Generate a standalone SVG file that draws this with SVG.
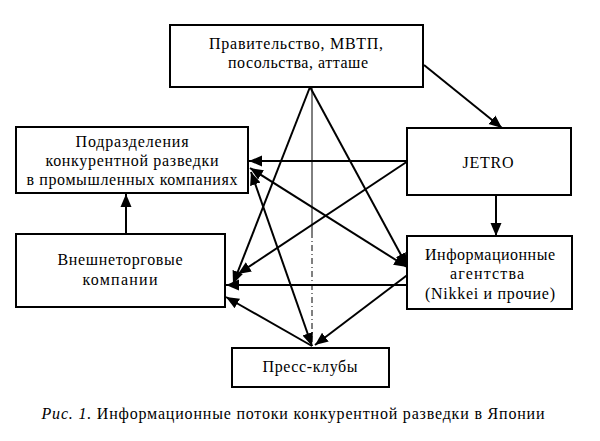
<svg xmlns="http://www.w3.org/2000/svg" width="600" height="441" viewBox="0 0 600 441">
<style>
.box{fill:#fff;stroke:#000;stroke-width:2}
.t{font-family:"Liberation Serif","Times New Roman",serif;font-size:16px;fill:#000;text-anchor:middle}
.c{stroke:#000;stroke-width:2;fill:none}
.thin{stroke:#000;stroke-width:1;fill:none}
</style>
<defs>
<marker id="a" markerUnits="userSpaceOnUse" markerWidth="14" markerHeight="12" refX="13" refY="6" orient="auto-start-reverse">
<path d="M0,0.5 L13,6 L0,11.5 Z" fill="#000"/>
</marker>
</defs>
<rect width="600" height="441" fill="#fff"/>
<g id="connectors">
<line class="c" x1="424" y1="65" x2="502" y2="128" marker-end="url(#a)"/>
<line class="c" x1="496" y1="195" x2="496" y2="236" marker-end="url(#a)"/>
<line class="c" x1="126" y1="234" x2="126" y2="194" marker-end="url(#a)"/>
<line class="c" x1="310" y1="87" x2="233" y2="284" marker-end="url(#a)"/>
<line class="c" x1="310" y1="87" x2="407" y2="266" marker-end="url(#a)"/>
<line class="thin" x1="312" y1="87" x2="312" y2="232"/>
<line class="thin" x1="312" y1="232" x2="312" y2="347" stroke-dasharray="6,3,1,3"/>
<line class="c" x1="407" y1="161" x2="249" y2="161" stroke-width="2.5" marker-end="url(#a)"/>
<line class="c" x1="408" y1="161" x2="238" y2="274" marker-end="url(#a)"/>
<line class="c" x1="250" y1="168" x2="407" y2="267" marker-start="url(#a)" marker-end="url(#a)"/>
<line class="c" x1="251" y1="172" x2="312" y2="346" marker-start="url(#a)" marker-end="url(#a)"/>
<line class="c" x1="410" y1="273" x2="315" y2="345" marker-end="url(#a)"/>
<line class="c" x1="407" y1="285" x2="226" y2="285" marker-end="url(#a)"/>
<line class="c" x1="312" y1="346" x2="226" y2="297" marker-end="url(#a)"/>
</g>
<g id="gov">
<rect class="box" x="170" y="25" width="253" height="62"/>
<text class="t" x="296" y="49" textLength="174" lengthAdjust="spacing">Правительство, МВТП,</text>
<text class="t" x="298" y="68" textLength="140" lengthAdjust="spacing">посольства, атташе</text>
</g>
<g id="podrazdeleniya">
<rect class="box" x="16" y="127" width="232" height="66"/>
<text class="t" x="132" y="147" textLength="113" lengthAdjust="spacing">Подразделения</text>
<text class="t" x="132" y="166" textLength="173" lengthAdjust="spacing">конкурентной разведки</text>
<text class="t" x="132" y="185" textLength="211" lengthAdjust="spacing">в промышленных компаниях</text>
</g>
<g id="jetro">
<rect class="box" x="407" y="128" width="164" height="67"/>
<text class="t" x="488" y="168" textLength="51" lengthAdjust="spacing">JETRO</text>
</g>
<g id="vneshnetorgovye">
<rect class="box" x="16" y="234" width="209" height="73"/>
<text class="t" x="120" y="265" textLength="125" lengthAdjust="spacing">Внешнеторговые</text>
<text class="t" x="120" y="285" textLength="75" lengthAdjust="spacing">компании</text>
</g>
<g id="info">
<rect class="box" x="407" y="236" width="165" height="73"/>
<text class="t" x="490" y="260" textLength="130" lengthAdjust="spacing">Информационные</text>
<text class="t" x="487" y="279" textLength="74" lengthAdjust="spacing">агентства</text>
<text class="t" x="490" y="299" textLength="130" lengthAdjust="spacing">(Nikkei и прочие)</text>
</g>
<g id="press">
<rect class="box" x="232" y="348" width="157" height="39"/>
<text class="t" x="310" y="372" textLength="95" lengthAdjust="spacing">Пресс-клубы</text>
</g>
<text class="t" x="293" y="419" font-size="15" textLength="503" lengthAdjust="spacing"><tspan font-style="italic">Рис. 1.</tspan> Информационные потоки конкурентной разведки в Японии</text>
</svg>
